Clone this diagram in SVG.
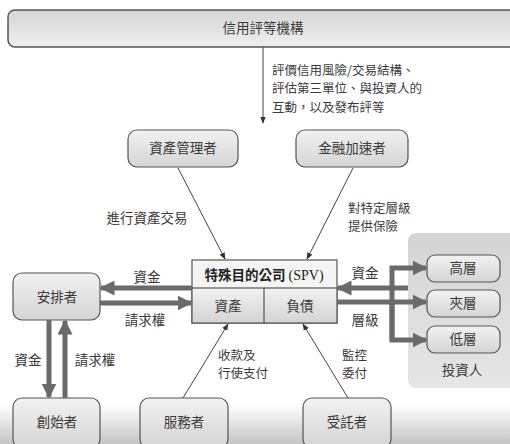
<svg xmlns="http://www.w3.org/2000/svg" width="510" height="444" viewBox="0 0 510 444">
<style>
text{font-family:"Noto Sans CJK TC","Noto Sans CJK SC",sans-serif;font-size:13.5px;fill:#3a3a3a}
.c{text-anchor:middle}
.ml{font-size:12.5px}
.box{fill:url(#bg);stroke:#555;stroke-width:1.2}
.thin{stroke:#444;stroke-width:1;fill:none}
.thick{stroke:#6a6a6a;stroke-width:5;fill:none}
</style>
<defs>
<linearGradient id="bg" x1="0" y1="0" x2="0" y2="1"><stop offset="0" stop-color="#f2f2f2"/><stop offset="1" stop-color="#d4d4d4"/></linearGradient>
<linearGradient id="tg" x1="0" y1="0" x2="0" y2="1"><stop offset="0" stop-color="#d6d6d6"/><stop offset="1" stop-color="#efefef"/></linearGradient>
<linearGradient id="floor" x1="0" y1="0" x2="0" y2="1"><stop offset="0" stop-color="#fff"/><stop offset="1" stop-color="#c4c4c4"/></linearGradient>
<linearGradient id="panel" x1="0" y1="0" x2="0" y2="1"><stop offset="0" stop-color="#d4d4d4"/><stop offset="1" stop-color="#e6e6e6"/></linearGradient>
<marker id="ta" viewBox="0 0 10 10" refX="9" refY="5" markerWidth="7" markerHeight="7" orient="auto" markerUnits="userSpaceOnUse"><path d="M0,1 L10,5 L0,9 z" fill="#333"/></marker>
<marker id="ka" viewBox="0 0 10 10" refX="9" refY="5" markerWidth="3" markerHeight="3" orient="auto"><path d="M0,0 L10,5 L0,10 z" fill="#6a6a6a"/></marker>
</defs>
<rect x="0" y="405" width="510" height="39" fill="url(#floor)"/>
<rect x="408" y="233" width="112" height="155" rx="8" fill="url(#panel)"/>

<g id="rating"><rect x="8" y="10" width="520" height="37" rx="7" fill="url(#tg)" stroke="#555" stroke-width="1.5"/><text class="c" x="263" y="33">信用評等機構</text></g>
<g id="asset-manager"><rect class="box" x="128" y="130" width="110" height="37" rx="9"/><text class="c" x="183" y="153">資產管理者</text></g>
<g id="accelerator"><rect class="box" x="296" y="130" width="112" height="37" rx="9"/><text class="c" x="352" y="153">金融加速者</text></g>
<g id="spv">
<rect x="192" y="260" width="145" height="63" fill="#f4f4f4" stroke="#555" stroke-width="1.2"/>
<rect x="192" y="288" width="145" height="35" fill="url(#bg)" stroke="#555" stroke-width="1.2"/>
<line x1="264" y1="288" x2="264" y2="323" stroke="#555" stroke-width="1.2"/>
<text class="c" x="264" y="280" style="font-weight:bold;fill:#222">特殊目的公司 <tspan style="font-family:'Liberation Serif',serif;font-weight:normal;font-size:14px">(SPV)</tspan></text>
<text class="c" x="228" y="311">資產</text><text class="c" x="300" y="311">負債</text>
</g>
<g id="arranger"><rect class="box" x="13" y="273" width="87" height="47" rx="9"/><text class="c" x="57" y="302">安排者</text></g>
<g id="originator"><rect class="box" x="13" y="398" width="87" height="50" rx="9"/><text class="c" x="57" y="427">創始者</text></g>
<g id="servicer"><rect class="box" x="140" y="398" width="88" height="50" rx="9"/><text class="c" x="184" y="427">服務者</text></g>
<g id="trustee"><rect class="box" x="303" y="398" width="88" height="50" rx="9"/><text class="c" x="347" y="427">受託者</text></g>
<g id="senior"><rect class="box" x="427" y="255" width="73" height="27" rx="8"/><text class="c" x="463" y="273">高層</text></g>
<g id="mezzanine"><rect class="box" x="427" y="290" width="73" height="27" rx="8"/><text class="c" x="463" y="308">夾層</text></g>
<g id="junior"><rect class="box" x="427" y="326" width="73" height="27" rx="8"/><text class="c" x="463" y="344">低層</text></g>
<text id="investors" class="c" x="462" y="375">投資人</text>

<g id="connectors">
<line class="thin" x1="263" y1="47" x2="263" y2="123" marker-end="url(#ta)"/>
<line class="thin" x1="178" y1="168" x2="225" y2="259" marker-end="url(#ta)"/>
<line class="thin" x1="353" y1="168" x2="307" y2="259" marker-end="url(#ta)"/>
<line class="thin" x1="183" y1="398" x2="228" y2="324" marker-end="url(#ta)"/>
<line class="thin" x1="348" y1="398" x2="303" y2="324" marker-end="url(#ta)"/>
<line class="thick" x1="192" y1="288" x2="101" y2="288" marker-end="url(#ka)"/>
<line class="thick" x1="100" y1="303" x2="191" y2="303" marker-end="url(#ka)"/>
<line class="thick" x1="49" y1="320" x2="49" y2="397" marker-end="url(#ka)"/>
<line class="thick" x1="65" y1="398" x2="65" y2="321" marker-end="url(#ka)"/>
<line class="thick" x1="408" y1="288" x2="338" y2="288" marker-end="url(#ka)"/>
<line class="thick" x1="337" y1="302" x2="426" y2="302" marker-end="url(#ka)"/>
<path class="thick" d="M392,340 V268 H426" marker-end="url(#ka)"/>
<path class="thick" d="M392,300 V340 H426" marker-end="url(#ka)"/>
</g>

<g id="labels">
<text class="ml" x="272" y="75">評價信用風險/交易結構、</text>
<text class="ml" x="272" y="93.3">評估第三單位、與投資人的</text>
<text class="ml" x="272" y="111.6">互動，以及發布評等</text>
<text class="c" x="147" y="223">進行資產交易</text>
<text class="ml" x="348" y="213">對特定層級</text>
<text class="ml" x="348" y="231.3">提供保險</text>
<text class="c" x="147" y="282">資金</text>
<text class="c" x="145" y="325">請求權</text>
<text class="c" x="28" y="365">資金</text>
<text class="c" x="95" y="365">請求權</text>
<text class="ml" x="218" y="360">收款及</text>
<text class="ml" x="218" y="378.3">行使支付</text>
<text class="ml" x="342" y="360">監控</text>
<text class="ml" x="342" y="378.3">委付</text>
<text class="c" x="365" y="278">資金</text>
<text class="c" x="365" y="325">層級</text>
</g>
</svg>
